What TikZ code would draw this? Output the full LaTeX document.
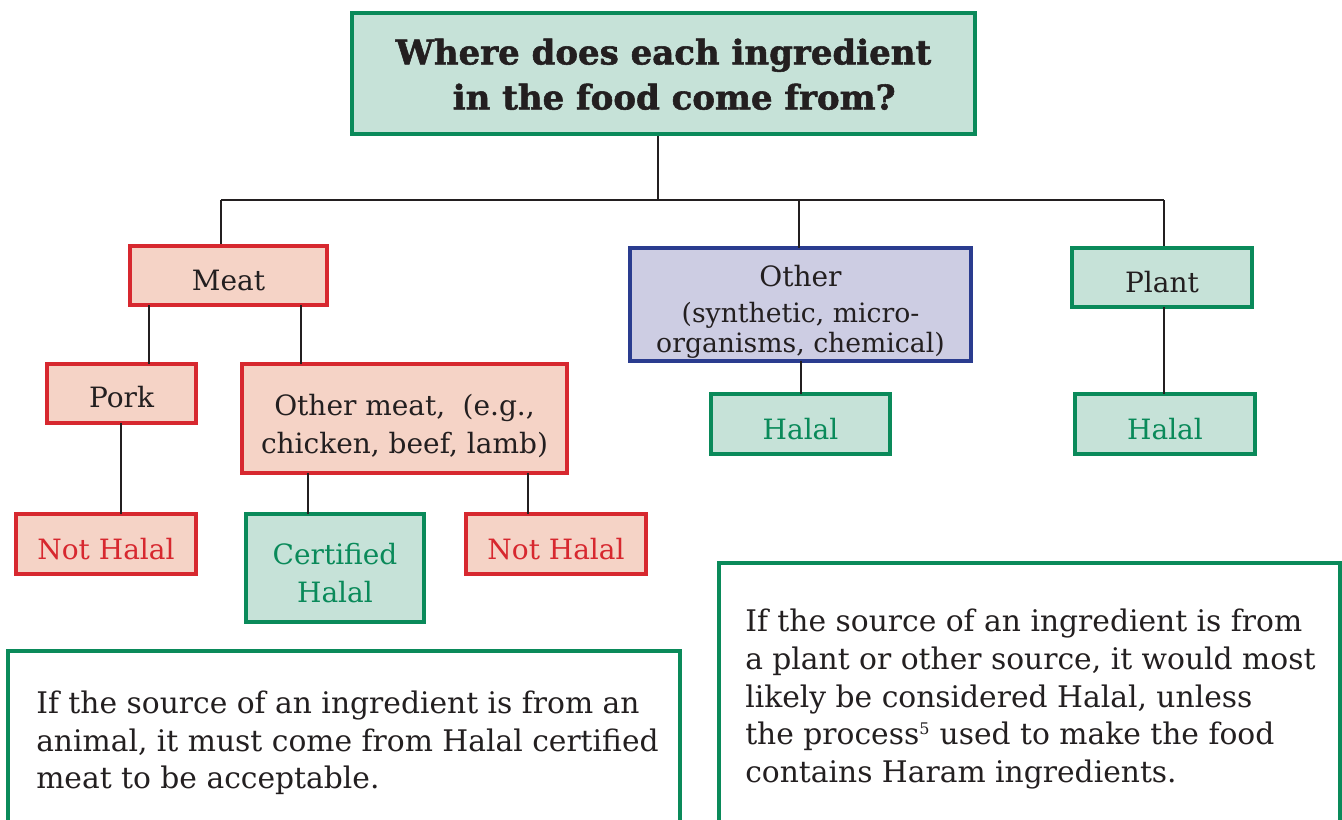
\documentclass[tikz,border=0pt]{standalone}
\usepackage{fontspec}
\setmainfont{DejaVu Serif}
\newfontfamily\titlefont{DejaVu Serif}[BoldFeatures={FakeBold=1.6}]
\definecolor{gfill}{HTML}{C6E2D8}
\definecolor{gline}{HTML}{0A8A5A}
\definecolor{rfill}{HTML}{F5D3C6}
\definecolor{rline}{HTML}{D7282F}
\definecolor{bfill}{HTML}{CDCDE3}
\definecolor{bline}{HTML}{2A3C8F}
\definecolor{ink}{HTML}{231F20}
\newcommand\subsz{\fontsize{20}{22.5}\selectfont}
% lower a label visually, keeping its box metrics
\newcommand\dn[2]{\raisebox{-#1}[\height][\depth]{#2}}
\newcommand\ml[2]{\raisebox{-#1}[\height][\depth]{\begin{tabular}{@{}c@{}}#2\end{tabular}}}
\tikzset{
  sz/.style 2 args={minimum width={#1*0.75pt}, minimum height={#2*0.75pt}},
  box/.style={rectangle, inner sep=0pt, line width=2.3pt, align=center, text=ink,
    font=\fontsize{21}{28.5}\selectfont},
  greenbox/.style={box, draw=gline, fill=gfill},
  redbox/.style={box, draw=rline, fill=rfill},
  bluebox/.style={box, draw=bline, fill=bfill},
  notebox/.style={rectangle, inner sep=0pt, line width=2.3pt, draw=gline},
  notetext/.style={inner sep=0pt, align=left, text=ink, font=\fontsize{22.3}{28.3}\selectfont},
  link/.style={draw=ink, line width=2pt},
}
\begin{document}
\begin{tikzpicture}[x=0.75pt,y=-0.75pt]
\useasboundingbox (0,0) rectangle (1342,819);
% title
\node[greenbox, sz={623}{121}, font={\titlefont\bfseries\fontsize{25.5}{33.8}\selectfont}] (title) at (663.5,73.5)
  {\ml{3.3pt}{Where does each ingredient\\\hspace*{16pt}in the food come from?}};
% level 1
\node[redbox, sz={197}{59}] (meat) at (228.5,275.5) {\dn{3.4pt}{Meat}};
\node[bluebox, sz={341}{113}] (other) at (800.5,304.5)
  {\ml{5.3pt}{Other\\[-1.5pt]\subsz (synthetic, micro-\\[-6pt]\subsz organisms, chemical)}};
\node[greenbox, sz={180}{59}] (plant) at (1162,277.5) {\dn{3.7pt}{Plant}};
% level 2
\node[redbox, sz={149}{59}] (pork) at (121.5,393.5) {\dn{3pt}{Pork}};
\node[redbox, sz={325}{109}] (othermeat) at (404.5,418.5)
  {\ml{6.3pt}{Other meat,\hspace{0.3em} (e.g.,\\chicken, beef, lamb)}};
\node[greenbox, sz={179}{60}, text=gline] (halal1) at (800.5,424) {\dn{3.7pt}{Halal}};
\node[greenbox, sz={180}{60}, text=gline] (halal2) at (1165,424) {\dn{3.7pt}{Halal}};
% level 3
\node[redbox, sz={180}{60}, text=rline] (nothalal1) at (106,544) {\dn{3.7pt}{Not Halal}};
\node[greenbox, sz={178}{108}, text=gline] (cert) at (335,568) {\ml{5.7pt}{Certified\\Halal}};
\node[redbox, sz={180}{60}, text=rline] (nothalal2) at (556,544) {\dn{3.7pt}{Not Halal}};
% notes
\node[notebox, sz={672}{200}] (noteL) at (344,751) {};
\node[notetext, anchor=west] (noteLtext) at (36,743)
  {If the source of an ingredient is from an\\animal, it must come from Halal certified\\meat to be acceptable.};
\node[notebox, sz={621}{280}] (noteR) at (1029.5,703) {};
\node[notetext, anchor=west] (noteRtext) at (745,699)
  {If the source of an ingredient is from\\a plant or other source, it would most\\likely be considered Halal, unless\\the process\textsuperscript{\fontsize{12}{12}\selectfont 5} used to make the food\\contains Haram ingredients.};
% connectors
\coordinate (hub) at (658,200);
\coordinate (hl) at (221,200);
\coordinate (hr) at (1164,200);
\draw[link] (title.south -| hub) -- (hub);
\draw[link] (hl) -- (hr);
\draw[link] (hl) -- (hl |- meat.north);
\draw[link] (799,200) -- (799,248);
\draw[link] (hr) -- (hr |- plant.north);
\draw[link] (149,305) -- (149,364);
\draw[link] (301,305) -- (301,364);
\draw[link] (121,423) -- (121,514);
\draw[link] (308,473) -- (308,514);
\draw[link] (528,473) -- (528,514);
\draw[link] (801,361) -- (801,394);
\draw[link] (1164,307) -- (1164,394);
\end{tikzpicture}
\end{document}
